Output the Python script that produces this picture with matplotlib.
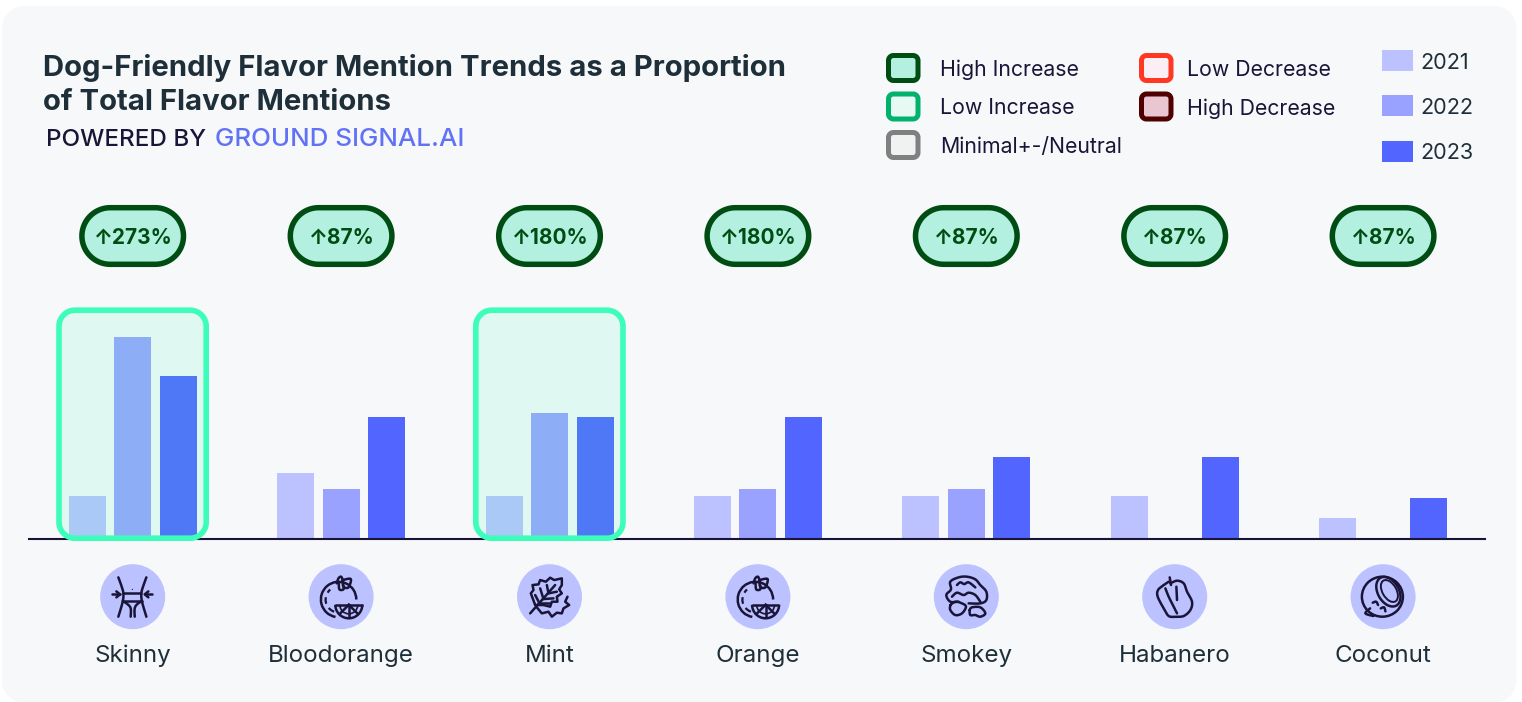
import numpy as np
import matplotlib
matplotlib.use("Agg")
import matplotlib.pyplot as plt
from matplotlib.patches import Rectangle, Circle, Ellipse, Arc, Polygon

plt.rcParams['font.family'] = ['Inter', 'DejaVu Sans']

TITLE = "Dog-Friendly Flavor Mention Trends as a Proportion\nof Total Flavor Mentions"
categories = ["Skinny", "Bloodorange", "Mint", "Orange", "Smokey", "Habanero", "Coconut"]
y2021 = [0.148, 0.228, 0.148, 0.148, 0.148, 0.148, 0.072]
y2022 = [0.697, 0.172, 0.434, 0.172, 0.172, 0.0, 0.0]
y2023 = [0.562, 0.421, 0.421, 0.421, 0.283, 0.283, 0.141]
changes = ["273%", "87%", "180%", "180%", "87%", "87%", "87%"]
highlighted = ["Skinny", "Mint"]
years = ["2021", "2022", "2023"]
year_colors = ["#BBC2FF", "#99A3FF", "#5265FF"]
legend_left = ["High Increase", "Low Increase", "Minimal+-/Neutral"]
legend_right = ["Low Decrease", "High Decrease"]

W, H = 1522, 702
INK = "#1F2F39"
NAVY = "#1A1538"
fig = plt.figure(figsize=(W / 100, H / 100), dpi=100, facecolor="white")

# pixel-space layers
bg = fig.add_axes([0, 0, 1, 1], zorder=0)
ov = fig.add_axes([0, 0, 1, 1], zorder=2)
for a in (bg, ov):
    a.set_xlim(0, W)
    a.set_ylim(H, 0)
    a.axis("off")
    a.patch.set_alpha(0)


def rbox(ax, x0, y0, x1, y1, r, fc, ec="none", lw=0, z=1):
    pts = []
    for (cx_, cy_, a0) in ((x1 - r, y0 + r, -90), (x1 - r, y1 - r, 0), (x0 + r, y1 - r, 90), (x0 + r, y0 + r, 180)):
        t = np.deg2rad(np.linspace(a0, a0 + 90, 24))
        pts.append(np.column_stack([cx_ + r * np.cos(t), cy_ + r * np.sin(t)]))
    p = Polygon(np.vstack(pts), closed=True, fc=fc, ec=ec, lw=lw * 0.72, zorder=z, joinstyle="round")
    ax.add_patch(p)
    return p


rbox(bg, 2, 6, 1516.5, 702.5, 22, "#F7F8FA")

# bars
X0, STEP = 132.7, 208.4
LEFT, RIGHT, BASE, UNIT = 29, 1485, 539, 290
ax = fig.add_axes([LEFT / W, 1 - BASE / H, (RIGHT - LEFT) / W, UNIT / H], zorder=1)
ax.set_xlim((LEFT - X0) / STEP, (RIGHT - X0) / STEP)
ax.set_ylim(0, 1)
ax.patch.set_alpha(0)
for s in ("top", "left", "right"):
    ax.spines[s].set_visible(False)
ax.spines["bottom"].set_color(NAVY)
ax.spines["bottom"].set_linewidth(1.5)
ax.set_xticks([])
ax.set_yticks([])
xs = np.arange(len(categories))
OFF, BW = 45.5 / STEP, 37 / STEP
for off, vals, col in zip((-OFF, 0, OFF), (y2021, y2022, y2023), year_colors):
    ax.bar(xs + off, vals, BW, color=col, lw=0)

cx = [X0 + STEP * i for i in range(len(categories))]

# highlights, pills, labels
for i, c in enumerate(categories):
    if c in highlighted:
        rbox(ov, cx[i] - 73.7, 310.2, cx[i] + 73.5, 538.2, 16, (60 / 255, 1, 190 / 255, 0.125), z=3)
        rbox(ov, cx[i] - 73.7, 310.2, cx[i] + 73.5, 538.2, 16, "none", "#3CFDB9", 5.6, z=3)
    rbox(ov, cx[i] - 50.8, 207.7, cx[i] + 50.8, 264.3, 28.3, "#B4F0DF", "#004D14", 5.5, z=3)
    ov.text(cx[i] + 0.5, 238, "↑" + changes[i], ha="center", va="center", fontsize=15.0,
            fontweight="bold", color="#004D14", zorder=4)
    ov.add_patch(Circle((cx[i], 596.7), 32.5, fc="#BBC2FF", ec="none", zorder=3))
    ov.text(cx[i], 656, c, ha="center", va="center", fontsize=17.4, color=INK, zorder=4)

# title
ov.text(43, 85, TITLE, ha="left", va="center", fontsize=21.1, fontweight="bold",
        color=INK, linespacing=1.33)
ov.text(46, 140, "POWERED BY", ha="left", va="center", fontsize=17.4, color=NAVY, fontweight="medium")
ov.text(215, 140, "GROUND SIGNAL.AI", ha="left", va="center", fontsize=18.7, color="#6272F5", fontweight="medium")

# legends
styles = {"High Increase": ("#B4F0DF", "#004D14"), "Low Increase": ("#E6F9F2", "#00B26B"),
          "Minimal+-/Neutral": ("#F0F1F1", "#808080"), "Low Decrease": ("#FBEEF4", "#FF3823"),
          "High Decrease": ("#EAC6D2", "#4F0000")}
for labels, sx, tx in ((legend_left, 888.5, 940), (legend_right, 1141.5, 1187)):
    for j, lab in enumerate(labels):
        y = [68, 106.5, 145][j]
        rbox(ov, sx, y - 12.5, sx + 29.5, y + 12.5, 5, styles[lab][0], styles[lab][1], 5, z=3)
        ov.text(tx, y + 2, lab, ha="left", va="center", fontsize=15.3, color=NAVY)
for yr, col, top, ty in zip(years, year_colors, (50, 95, 141), (63, 108, 153)):
    ov.add_patch(Rectangle((1382, top), 31, 21, fc=col, ec="none"))
    ov.text(1420, ty, yr, ha="left", va="center", fontsize=15.6, color=INK)


# icons: outline sketches traced around each circle centre
ICON = dict(color=NAVY, lw=1.8, solid_capstyle="round", solid_joinstyle="round", zorder=5)


def smooth(pts, n=10):
    p = np.array(pts, float)
    q = np.vstack([p[0], p, p[-1]])
    out = []
    for k in range(1, len(q) - 2):
        a, b, c, d = q[k - 1], q[k], q[k + 1], q[k + 2]
        for t in np.linspace(0, 1, n, endpoint=False):
            out.append(0.5 * (2 * b + (c - a) * t + (2 * a - 5 * b + 4 * c - d) * t ** 2
                              + (3 * b - a - 3 * c + d) * t ** 3))
    out.append(p[-1])
    return np.array(out)


def draw(center, zoomc, paths, curved=True):
    for pts in paths:
        a = (np.array(pts, float) - zoomc) / 3
        if curved:
            a = smooth(a)
        ov.plot(a[:, 0] + center, a[:, 1] + 596.7, **ICON)


def skinny(c):
    z = (278, 200)
    paths = [[(235, 142), (245, 170), (250, 190), (248, 215), (235, 260)],
             [(319, 142), (309, 170), (304, 190), (306, 215), (319, 260)],
             [(250, 190), (304, 190)],
             [(248, 213), (262, 222), (272, 235), (272, 260)],
             [(306, 213), (292, 222), (284, 235), (284, 260)],
             [(248, 213), (306, 213)]]
    draw(c, z, paths)
    draw(c, z, [[(217, 193), (240, 193)], [(337, 193), (314, 193)],
                [(229, 184), (240, 193), (229, 202)], [(325, 184), (314, 193), (325, 202)]], curved=False)
    ov.add_patch(Circle((c - 0.3, 596.7 - 7.3), 0.6, fc=NAVY, ec="none", zorder=5))


def citrus(c):
    cc = (c - 2.5, 599.5)
    ov.add_patch(Arc(cc, 35.4, 35.4, theta1=100, theta2=360, color=NAVY, lw=1.8, zorder=5))
    ov.add_patch(Arc(cc, 26, 26, theta1=110, theta2=230, color=NAVY, lw=1.6, ls=(0, (3, 2.2)), zorder=5))
    wc = (c + 7.7, 604.8)
    ov.add_patch(Polygon([(c - 6, 604.8), (c + 21.4, 604.8)], closed=False, color=NAVY, lw=1.8, zorder=6))
    ov.add_patch(Arc(wc, 27, 27, theta1=0, theta2=180, color=NAVY, lw=1.8, zorder=6))
    ov.add_patch(Arc(wc, 18, 18, theta1=0, theta2=180, color=NAVY, lw=1.2, zorder=6))
    for ang in (45, 90, 135):
        r = np.deg2rad(ang)
        ov.plot([wc[0], wc[0] + 12 * np.cos(r)], [wc[1], wc[1] + 12 * np.sin(r)], color=NAVY, lw=1.8, zorder=6)
    draw(c, (833, 200), [[(820, 160), (825, 145), (833, 140), (838, 150)],
                         [(838, 150), (862, 147), (855, 172), (840, 170), (838, 150)],
                         [(826, 158), (828, 178), (840, 178), (840, 165)]])


def mint(c):
    z = (208, 200)
    paths = [[(165, 225), (152, 190), (160, 180), (157, 165), (175, 163), (180, 150), (197, 155), (210, 143),
              (222, 150), (245, 145), (245, 165), (237, 178), (245, 190), (230, 200), (232, 215), (215, 215),
              (210, 230), (190, 225), (165, 225)],
             [(150, 250), (225, 165)], [(178, 220), (165, 195)], [(190, 207), (180, 175)],
             [(205, 190), (200, 165)], [(178, 220), (205, 220)], [(190, 207), (220, 205)], [(205, 190), (230, 185)],
             [(170, 232), (185, 250), (205, 245), (215, 260), (230, 248), (245, 250), (250, 235), (267, 225),
              (255, 215), (262, 200)]]
    draw(c, z, paths, curved=False)


def smokey(c):
    z = (198, 140)
    draw(c, z, [[(175, 155), (150, 155), (138, 135), (152, 118), (150, 95), (175, 82), (200, 80), (225, 88),
                 (240, 105), (258, 125), (258, 150), (240, 160), (205, 160)],
                [(170, 105), (180, 97), (192, 102), (205, 97), (225, 112)],
                [(155, 140), (170, 128), (190, 135), (205, 128), (225, 135), (240, 155)],
                [(150, 165), (165, 155), (185, 160), (197, 170), (185, 190), (165, 195), (150, 180), (150, 165)],
                [(208, 180), (215, 172), (240, 172), (255, 190), (240, 200), (225, 195), (210, 195), (208, 180)]])


def habanero(c):
    z = (823, 140)
    draw(c, z, [[(805, 95), (790, 105), (773, 120), (772, 140), (790, 175), (805, 198), (825, 200), (850, 198),
                 (870, 180), (875, 155), (860, 125), (850, 100), (830, 92), (810, 100)],
                [(808, 82), (812, 105)],
                [(795, 115), (805, 140), (820, 170), (830, 190)],
                [(828, 110), (830, 150)]])


def coconut(c):
    ov.add_patch(Ellipse((c - 0.7, 596.7), 41, 40, fc="none", ec=NAVY, lw=1.8, zorder=5))
    ov.add_patch(Ellipse((c + 5.3, 591.7), 21, 32, angle=-30, fc="none", ec=NAVY, lw=1.8, zorder=5))
    ov.add_patch(Ellipse((c + 6.3, 591), 14, 24, angle=-30, fc="none", ec=NAVY, lw=1.4, zorder=5))
    z = (1449, 140)
    draw(c, z, [[(1418, 158), (1428, 155), (1434, 165)], [(1442, 175), (1452, 172), (1456, 184)],
                [(1410, 175), (1396, 190), (1420, 198)]])


for c, fn in zip(cx, (skinny, citrus, mint, citrus, smokey, habanero, coconut)):
    fn(c)

fig.savefig("out.png", dpi=100, facecolor="white")
